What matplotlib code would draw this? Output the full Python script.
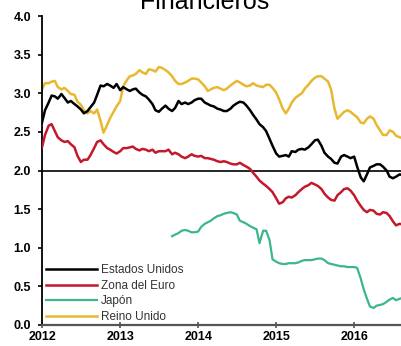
import pandas as pd
import matplotlib
matplotlib.use('Agg')
from matplotlib import pyplot as plt

plt.rcParams['font.family'] = ['Liberation Sans', 'DejaVu Sans']

# Semi-monthly readings, starting January 2012
estados_unidos = [
    2.62, 2.78, 2.88, 2.97, 2.96, 2.93, 2.99, 2.94, 2.88, 2.90, 2.86, 2.83,
    2.79, 2.74, 2.77, 2.82, 2.88, 2.98, 3.10, 3.09, 3.12, 3.10, 3.07, 3.12,
    3.04, 3.08, 3.05, 3.03, 3.05, 3.06, 3.01, 2.98, 2.96, 2.92, 2.86, 2.78,
    2.76, 2.80, 2.84, 2.80, 2.77, 2.81, 2.90, 2.86, 2.88, 2.86, 2.88, 2.91,
    2.93, 2.93, 2.88, 2.86, 2.84, 2.83, 2.80, 2.79, 2.77, 2.77, 2.80, 2.84,
    2.87, 2.89, 2.88, 2.84, 2.78, 2.72, 2.66, 2.60, 2.56, 2.51, 2.41, 2.32,
    2.22, 2.18, 2.19, 2.20, 2.18, 2.25, 2.24, 2.27, 2.28, 2.27, 2.30, 2.34,
    2.39, 2.40, 2.32, 2.23, 2.18, 2.15, 2.10, 2.09, 2.18, 2.20, 2.18, 2.16,
    2.18, 2.05, 1.91, 1.86, 1.95, 2.04, 2.06, 2.08, 2.08, 2.05, 2.00, 1.92,
    1.90, 1.92, 1.95, 1.94,
]
zona_euro = [
    2.30, 2.46, 2.58, 2.60, 2.51, 2.43, 2.39, 2.37, 2.38, 2.34, 2.30, 2.19,
    2.11, 2.14, 2.14, 2.20, 2.29, 2.37, 2.39, 2.34, 2.29, 2.27, 2.24, 2.22,
    2.25, 2.29, 2.29, 2.30, 2.31, 2.28, 2.26, 2.28, 2.27, 2.25, 2.27, 2.23,
    2.25, 2.25, 2.25, 2.27, 2.21, 2.23, 2.21, 2.18, 2.16, 2.18, 2.21, 2.19,
    2.18, 2.19, 2.16, 2.16, 2.15, 2.14, 2.12, 2.11, 2.12, 2.11, 2.09, 2.08,
    2.08, 2.10, 2.07, 2.05, 2.02, 1.97, 1.92, 1.87, 1.83, 1.80, 1.76, 1.72,
    1.64, 1.57, 1.59, 1.64, 1.66, 1.65, 1.68, 1.72, 1.76, 1.79, 1.81, 1.84,
    1.82, 1.80, 1.76, 1.70, 1.65, 1.62, 1.61, 1.68, 1.72, 1.76, 1.77, 1.74,
    1.68, 1.61, 1.54, 1.49, 1.46, 1.49, 1.48, 1.44, 1.43, 1.46, 1.45, 1.41,
    1.34, 1.29, 1.31, 1.30,
]
reino_unido = [
    3.05, 3.13, 3.13, 3.15, 3.16, 3.08, 3.05, 3.07, 3.03, 2.99, 2.98, 2.89,
    2.85, 2.78, 2.74, 2.77, 2.74, 2.79, 2.64, 2.49, 2.59, 2.68, 2.76, 2.83,
    2.90, 3.09, 3.17, 3.22, 3.23, 3.25, 3.30, 3.27, 3.25, 3.31, 3.30, 3.28,
    3.34, 3.33, 3.30, 3.27, 3.22, 3.16, 3.12, 3.12, 3.14, 3.16, 3.19, 3.19,
    3.18, 3.14, 3.09, 3.03, 3.05, 3.07, 3.08, 3.06, 3.04, 3.06, 3.10, 3.13,
    3.16, 3.14, 3.11, 3.09, 3.10, 3.13, 3.10, 3.09, 3.08, 3.11, 3.11, 3.07,
    3.01, 2.92, 2.80, 2.74, 2.80, 2.88, 2.94, 2.97, 3.00, 3.06, 3.11, 3.16,
    3.20, 3.22, 3.22, 3.19, 3.15, 3.05, 2.80, 2.67, 2.72, 2.76, 2.78, 2.76,
    2.72, 2.69, 2.62, 2.61, 2.67, 2.70, 2.67, 2.59, 2.52, 2.46, 2.46, 2.52,
    2.50, 2.45, 2.43, 2.42,
]
# Japan series begins in September 2013
japon = [
    1.15, 1.17, 1.19, 1.22, 1.23, 1.22, 1.20, 1.20, 1.21, 1.27, 1.31, 1.33,
    1.35, 1.38, 1.41, 1.42, 1.44, 1.45, 1.46, 1.45, 1.43, 1.35, 1.33, 1.31,
    1.28, 1.26, 1.24, 1.06, 1.22, 1.22, 1.10, 0.85, 0.82, 0.80, 0.79, 0.79,
    0.80, 0.80, 0.80, 0.81, 0.83, 0.84, 0.84, 0.84, 0.85, 0.86, 0.86, 0.84,
    0.80, 0.79, 0.78, 0.77, 0.76, 0.76, 0.75, 0.75, 0.75, 0.74, 0.60, 0.46,
    0.34, 0.24, 0.22, 0.25, 0.26, 0.27, 0.30, 0.33, 0.35, 0.32, 0.34, 0.35,
]

fechas = pd.date_range('2012-01-01', periods=len(estados_unidos), freq='SMS')
fechas_japon = fechas[len(fechas) - len(japon):]

fig = plt.figure(figsize=(4.02, 3.46), dpi=100)
ax = fig.add_axes([0.1045, 0.0607, 0.8955, 0.893])

ax.axhline(2.0, color='black', linewidth=1.2, zorder=1)

ax.plot(fechas, reino_unido, color='#e8b830', linewidth=1.8, label='Reino Unido', zorder=2)
ax.plot(fechas, zona_euro, color='#c4182c', linewidth=1.8, label='Zona del Euro', zorder=3)
ax.plot(fechas_japon, japon, color='#3cb68a', linewidth=1.6, label='Japón', zorder=3)
ax.plot(fechas, estados_unidos, color='black', linewidth=1.8, label='Estados Unidos', zorder=4)

ax.set_ylim(0, 4.0)
ax.set_xlim(pd.Timestamp('2012-01-01'), pd.Timestamp('2016-08-12'))
ax.set_yticks([0, 0.5, 1.0, 1.5, 2.0, 2.5, 3.0, 3.5, 4.0])
ax.set_yticklabels(['0.0', '0.5', '1.0', '1.5', '2.0', '2.5', '3.0', '3.5', '4.0'])
anios = [2012, 2013, 2014, 2015, 2016]
ax.set_xticks([pd.Timestamp(f'{a}-01-01') for a in anios])
ax.set_xticklabels([str(a) for a in anios])

for lado in ['top', 'right']:
    ax.spines[lado].set_visible(False)
ax.spines['left'].set_linewidth(1.3)
ax.spines['bottom'].set_linewidth(1.6)
ax.spines['bottom'].set_color('#555555')
ax.tick_params(axis='y', direction='out', length=3, width=1.2, pad=5,
               labelsize=9)
ax.tick_params(axis='x', direction='inout', length=4, width=1.2, pad=2,
               labelsize=9, color='#555555')
for etiqueta in ax.get_xticklabels() + ax.get_yticklabels():
    etiqueta.set_fontweight('bold')

# Leyenda en el orden original
manejadores, etiquetas = ax.get_legend_handles_labels()
orden = [3, 1, 2, 0]
ax.legend([manejadores[i] for i in orden], [etiquetas[i] for i in orden],
          loc='lower left', bbox_to_anchor=(0.0, -0.005), frameon=False,
          fontsize=8.5, handlelength=4.4, handletextpad=0.3,
          labelspacing=0.3, borderaxespad=0.0, borderpad=0.3,
          labelcolor='#333333')

fig.text(0.51, 1 - 9 / 346, 'Financieros', ha='center', va='baseline',
         fontsize=18)

fig.savefig('out.png', dpi=100)
